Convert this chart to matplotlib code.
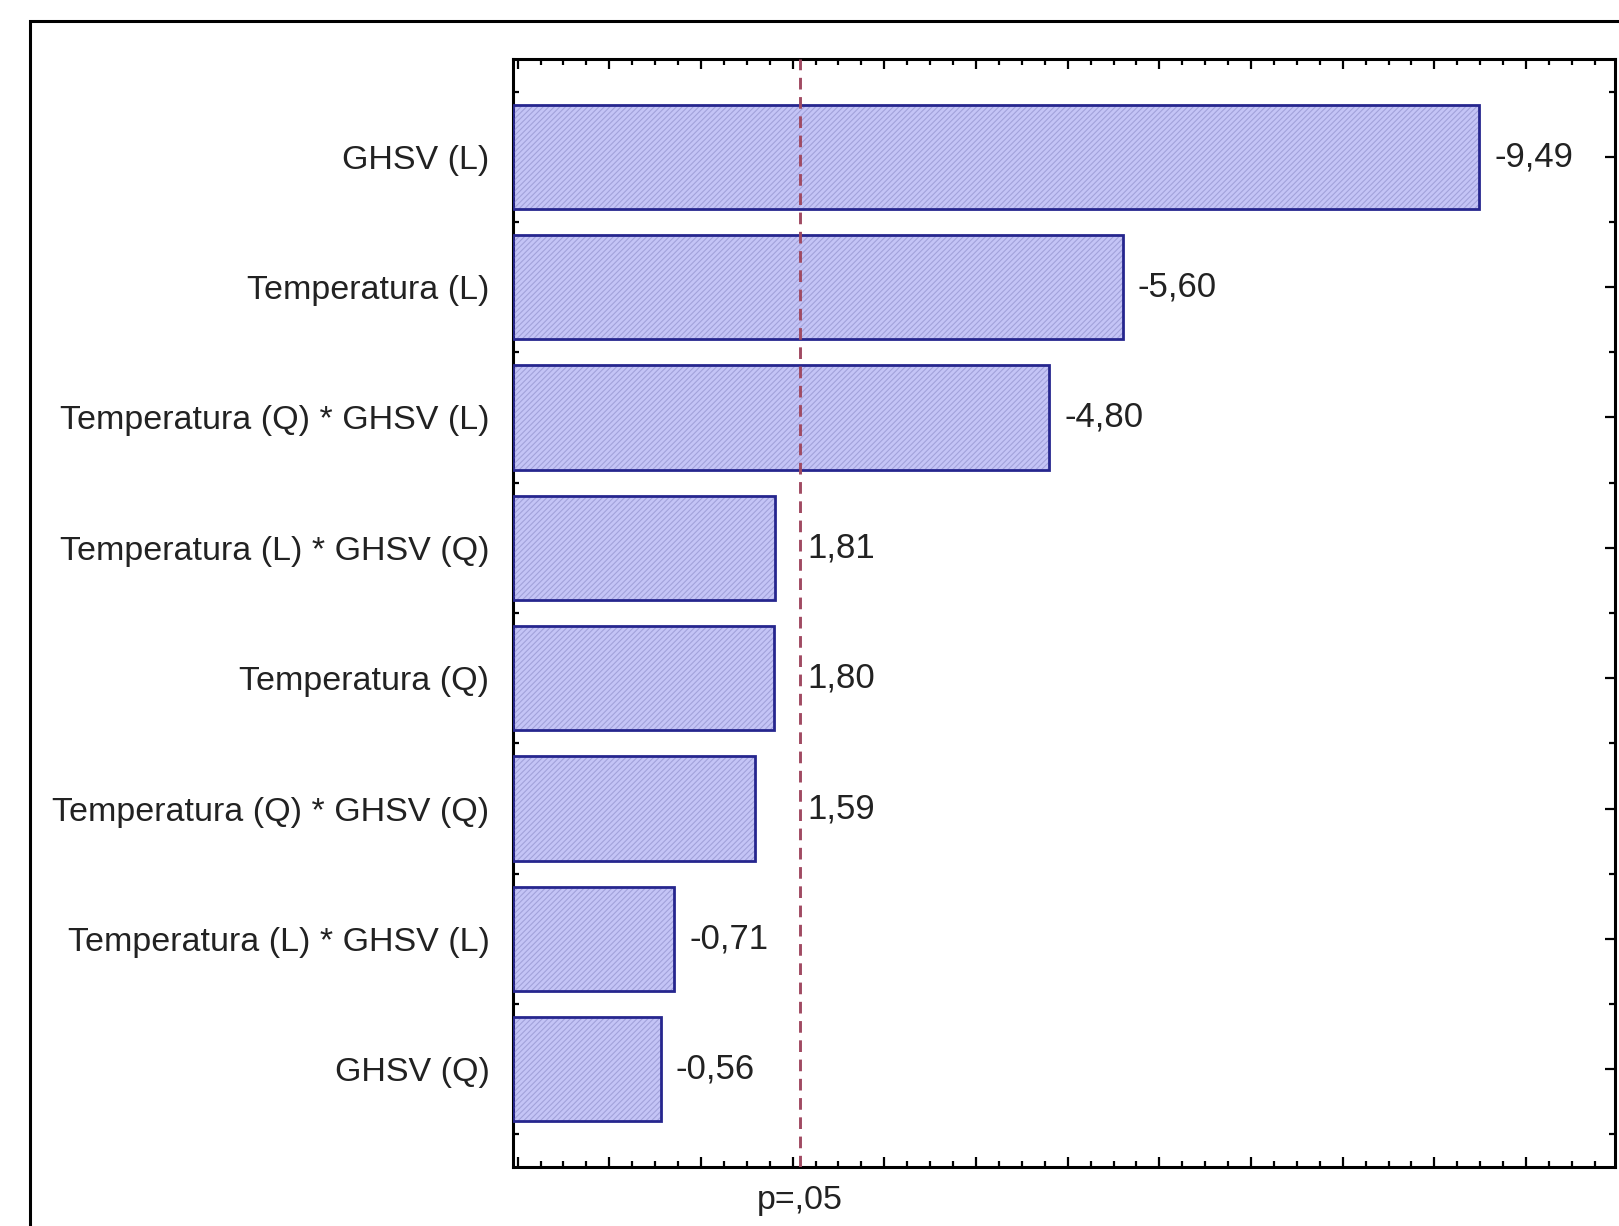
import matplotlib
matplotlib.use("Agg")
import matplotlib.pyplot as plt
from matplotlib.patches import Rectangle
from matplotlib.transforms import blended_transform_factory
from matplotlib.ticker import MultipleLocator

# ---- data ----
factors = ["GHSV (L)", "Temperatura (L)", "Temperatura (Q) * GHSV (L)",
           "Temperatura (L) * GHSV (Q)", "Temperatura (Q)",
           "Temperatura (Q) * GHSV (Q)", "Temperatura (L) * GHSV (L)",
           "GHSV (Q)"]
effects = [-9.49, -5.60, -4.80, 1.81, 1.80, 1.59, -0.71, -0.56]
value_labels = ["-9,49", "-5,60", "-4,80", "1,81", "1,80", "1,59", "-0,71", "-0,56"]
p_crit = 2.08
p_label = "p=,05"
x_min, x_max = -1.05, 10.97

plt.rcParams['font.family'] = ['Liberation Sans', 'DejaVu Sans']
plt.rcParams['hatch.linewidth'] = 0.8

W, H = 1619, 1226
fig = plt.figure(figsize=(W / 100, H / 100), dpi=100)
fig.patch.set_facecolor('white')

# outer frame (cropped at right/bottom)
fig.add_artist(Rectangle((30 / W, -0.1), 1.2, 1 - 21 / H + 0.1,
                         transform=fig.transFigure, fill=False,
                         edgecolor='black', linewidth=2.2))

ax = fig.add_axes([513 / W, 1 - 1167 / H, (1615 - 513) / W, (1167 - 59) / H])

ypos = list(range(len(factors)))
widths = [abs(v) - x_min for v in effects]
# face
ax.barh(ypos, widths, left=x_min, height=0.8, color='#c4c4f6',
        edgecolor='none', zorder=2)
# fine diagonal texture
ax.barh(ypos, widths, left=x_min, height=0.8, fill=False, hatch='//////',
        edgecolor='#a2a2da', linewidth=0, zorder=3)
# outline
ax.barh(ypos, widths, left=x_min, height=0.8, fill=False,
        edgecolor='#26268e', linewidth=2.0, zorder=4)

val_fs = 25
for y, v, lab in zip(ypos, effects, value_labels):
    if v > 0 and abs(v) < p_crit:
        x_anchor, off = p_crit, 5
    else:
        x_anchor, off = abs(v), (11 if v < 0 else 11 + 0.333 * val_fs)
    ax.annotate(lab, xy=(x_anchor, y), xytext=(off, 0), textcoords='offset points',
                ha='left', va='center', fontsize=val_fs, color='#222222', zorder=6)

ax.axvline(p_crit, color='#a04a62', linewidth=2.1, linestyle=(0, (4, 2.6)),
           zorder=5)

ax.set_xlim(x_min, x_max)
ax.set_ylim(len(factors) - 0.25, -0.75)

ax.set_yticks(ypos)
ax.set_yticklabels(factors, fontsize=24.5, color='#222222')
ax.yaxis.set_minor_locator(MultipleLocator(0.5))
ax.xaxis.set_major_locator(MultipleLocator(1))
ax.xaxis.set_minor_locator(MultipleLocator(0.25))
ax.tick_params(axis='x', which='both', direction='in', top=True, bottom=True,
               labelbottom=False, width=1.6)
ax.tick_params(axis='x', which='major', length=7)
ax.tick_params(axis='x', which='minor', length=4)
ax.tick_params(axis='y', which='both', direction='in', left=True, right=True,
               width=1.6)
ax.tick_params(axis='y', which='major', length=7, pad=17)
ax.tick_params(axis='y', which='minor', length=4)

for s in ax.spines.values():
    s.set_linewidth(2.2)
    s.set_color('black')

trans = blended_transform_factory(ax.transData, ax.transAxes)
ax.text(p_crit, -0.016, p_label, transform=trans, ha='center', va='top',
        fontsize=24.5, color='#222222')

fig.savefig("out.png", dpi=100)
